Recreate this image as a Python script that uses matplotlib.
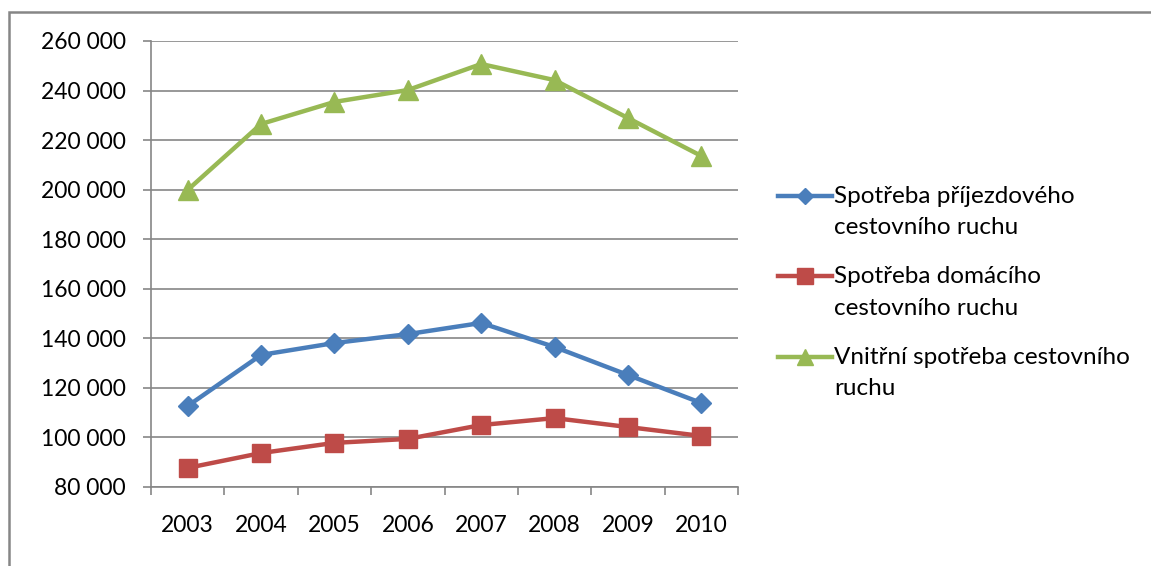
import matplotlib.pyplot as plt
from matplotlib.patches import Rectangle
from matplotlib.ticker import FuncFormatter, FixedLocator
from matplotlib.legend_handler import HandlerLine2D

plt.rcParams['font.family'] = ['Lato', 'DejaVu Sans']

years = ['2003', '2004', '2005', '2006', '2007', '2008', '2009', '2010']
prijezdovy = [112700, 133300, 138100, 141700, 146200, 136500, 125200, 113900]
domaci = [87700, 93700, 97800, 99400, 105000, 107800, 104200, 100600]
vnitrni = [199900, 226500, 235400, 240200, 250700, 244200, 228900, 213600]

labels = ['Spotřeba příjezdového\ncestovního ruchu',
          'Spotřeba domácího\ncestovního ruchu',
          'Vnitřní spotřeba cestovního\nruchu']


class FirstLineHandler(HandlerLine2D):
    # znacka v legende u prvniho radku textu
    def create_artists(self, legend, orig_handle, xdescent, ydescent,
                       width, height, fontsize, trans):
        return super().create_artists(legend, orig_handle, xdescent, ydescent - 23,
                                      width, height, fontsize, trans)


fig = plt.figure(figsize=(11.51, 5.66), dpi=100)
ax = fig.add_axes([0.1312, 0.1396, 0.51, 0.788])

# ramecek grafu
fig.patches.append(Rectangle((0.0078, -0.1), 1.2, 1.0788, transform=fig.transFigure,
                             fill=False, edgecolor='#868686', linewidth=1.8))

x = list(range(len(years)))
ax.plot(x, prijezdovy, color='#4A7EBB', lw=3.2, marker='D', ms=10, label=labels[0])
ax.plot(x, domaci, color='#BE4B48', lw=3.2, marker='s', ms=13, label=labels[1])
ax.plot(x, vnitrni, color='#98B954', lw=3.2, marker='^', ms=14, label=labels[2])

ax.set_xlim(-0.5, 7.5)
ax.set_ylim(80000, 260000)
ax.set_yticks(range(80000, 260001, 20000))
ax.yaxis.set_major_formatter(FuncFormatter(lambda v, p: f'{int(v):,}'.replace(',', ' ')))
ax.set_xticks(x)
ax.set_xticklabels(years)
ax.xaxis.set_minor_locator(FixedLocator([i - 0.5 for i in range(len(years) + 1)]))

ax.tick_params(axis='x', which='major', length=0, pad=20, labelsize=16.5)
ax.tick_params(axis='x', which='minor', length=6, width=1.2, color='#868686')
ax.tick_params(axis='y', length=6, width=1.2, color='#868686', pad=12, labelsize=16.5)

ax.grid(axis='y', color='#868686', lw=1.2)
ax.set_axisbelow(True)
for s in ['top', 'right']:
    ax.spines[s].set_visible(False)
for s in ['left', 'bottom']:
    ax.spines[s].set_color('#868686')
    ax.spines[s].set_linewidth(1.2)

handles, _ = ax.get_legend_handles_labels()
leg = fig.legend(handles=handles, loc='upper left', bbox_to_anchor=(0.676, 0.671),
                 frameon=False, fontsize=17.5, handlelength=2.2, handletextpad=0.1,
                 labelspacing=1.15, borderpad=0, borderaxespad=0, markerscale=0.85,
                 handler_map={h: FirstLineHandler() for h in handles})
for t in leg.get_texts():
    t.set_linespacing(1.6)

fig.savefig('out.png', dpi=100)
